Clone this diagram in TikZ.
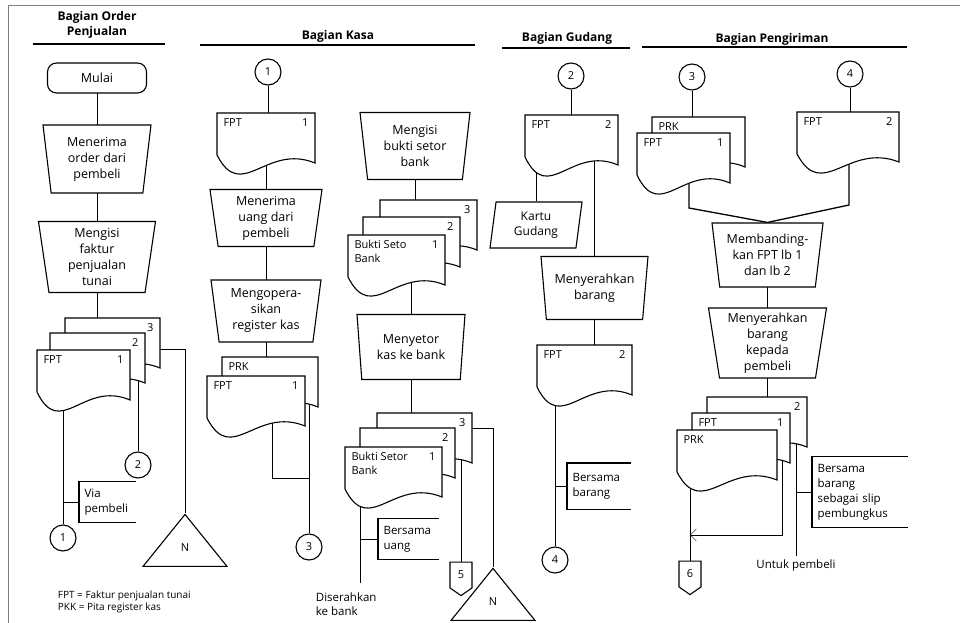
\documentclass[tikz,border=0pt]{standalone}
\usepackage{fontspec}
\setmainfont{Open Sans}
\usetikzlibrary{shapes.geometric,shapes.symbols,arrows.meta,backgrounds}

% document symbol with a wavy bottom edge
\newdimen\docxa \newdimen\docya \newdimen\docw \newdimen\doch
\makeatletter
\pgfdeclareshape{docpage}{
  \inheritsavedanchors[from=rectangle]
  \inheritanchorborder[from=rectangle]
  \inheritanchor[from=rectangle]{center}
  \inheritanchor[from=rectangle]{north}
  \inheritanchor[from=rectangle]{south}
  \inheritanchor[from=rectangle]{east}
  \inheritanchor[from=rectangle]{west}
  \inheritanchor[from=rectangle]{north east}
  \inheritanchor[from=rectangle]{north west}
  \inheritanchor[from=rectangle]{south east}
  \inheritanchor[from=rectangle]{south west}
  \backgroundpath{
    \southwest \docxa=\pgf@x \docya=\pgf@y
    \northeast \docw=\pgf@x \doch=\pgf@y
    \advance\docw by -\docxa
    \advance\doch by -\docya
    \pgfpathmoveto{\pgfpoint{\docxa}{\docya+\doch}}
    \pgfpathlineto{\pgfpoint{\docxa+\docw}{\docya+\doch}}
    \pgfpathlineto{\pgfpoint{\docxa+\docw}{\docya}}
    \pgfpathcurveto{\pgfpoint{\docxa+0.5*\docw}{\docya+0.4*\doch}}
                   {\pgfpoint{\docxa+0.25*\docw}{\docya-0.8*\doch}}
                   {\pgfpoint{\docxa}{\docya+0.16*\doch}}
    \pgfpathclose
  }
}
\makeatother

\tikzset{
  proc/.style={trapezium, trapezium stretches body, shape border rotate=180,
    trapezium left angle=80, trapezium right angle=80, draw, fill=white,
    align=center, inner sep=1pt, font=\fontsize{12.5}{16}\selectfont},
  docbox/.style={docpage, draw, fill=white, minimum width=95, minimum height=50,
    inner sep=0pt, outer sep=0pt},
  doclbl/.style={inner xsep=6pt, inner ysep=5pt, align=left,
    font=\fontsize{11}{14}\selectfont},
  doc/.style 2 args={docbox,
    label={[doclbl, anchor=north west]north west:#1},
    label={[doclbl, anchor=north east]north east:#2}},
  conn/.style={circle, draw, fill=white, minimum size=26, inner sep=0pt,
    font=\fontsize{11}{13}\selectfont},
  offpage/.style={signal, signal to=south, signal pointer angle=110, draw,
    fill=white, minimum width=22, minimum height=28, inner sep=0pt,
    font=\fontsize{11}{13}\selectfont},
  filetri/.style={isosceles triangle, isosceles triangle stretches,
    shape border rotate=90, draw, fill=white, minimum width=84,
    minimum height=52, inner sep=0pt, font=\fontsize{11}{13}\selectfont},
  note/.style={anchor=west, align=left, inner xsep=5pt, inner ysep=0pt,
    font=\fontsize{11.5}{15}\selectfont},
  lanehead/.style={align=center, font=\bfseries\fontsize{12}{15}\selectfont},
}

\begin{document}
\begin{tikzpicture}[x=1pt, y=-1pt, line width=1.1pt]
  \useasboundingbox (0,0) rectangle (960,623);

  % lane headings
  \node[lanehead] (hOrder) at (97,25) {Bagian Order\\Penjualan};
  \node[lanehead] (hKasa) at (338,36) {Bagian Kasa};
  \node[lanehead] (hGudang) at (567,38) {Bagian Gudang};
  \node[lanehead] (hKirim) at (772,39) {Bagian Pengiriman};

  % Bagian Order Penjualan
  \node[draw, fill=white, rounded corners=9pt, minimum width=99, minimum height=30,
    font=\fontsize{12.5}{15}\selectfont] (mulai) at (97,78) {Mulai};
  \node[proc, minimum width=108, minimum height=68] (terima) at (97,159) {Menerima\\order dari\\pembeli};
  \node[proc, minimum width=117, minimum height=71] (isiFpt) at (97,257) {Mengisi\\faktur\\penjualan\\tunai};
  \node[doc={}{3}] (fpt3) at (112.5,343) {};
  \node[doc={}{2}] (fpt2) at (97.5,358) {};
  \node[doc={FPT}{1}, minimum width=93] (fpt1) at (83.5,375) {};
  \node[conn] (cA1) at (63,538) {1};
  \node[conn] (cA2) at (138,465) {2};
  \node[note, text width=46, minimum height=40] (via) at (79,502) {Via\\pembeli};
  \node[filetri, anchor=apex] (fileA) at (185,513) {N};
  \node[anchor=west, align=left, font=\fontsize{10}{12.5}\selectfont] (legend) at (54,602)
    {FPT = Faktur penjualan tunai\\PKK = Pita register kas};

  % Bagian Kasa
  \node[conn] (cB1) at (268,72) {1};
  \node[doc={FPT}{1}, minimum width=98] (kfpt) at (266,138) {};
  \node[proc, minimum width=112, minimum height=57] (terimaUang) at (266,218) {Menerima\\uang dari\\pembeli};
  \node[proc, minimum width=110, minimum height=62] (register) at (266,311) {Mengopera-\\sikan\\register kas};
  \node[doc={PRK}{}, minimum width=96] (kprk) at (270,382) {};
  \node[doc={FPT}{1}, minimum width=98] (kfpt2) at (256,401) {};
  \node[conn] (cB3) at (309,547) {3};
  \coordinate (kjoin) at (309,478);

  \node[proc, minimum width=110, minimum height=67] (isiBukti) at (415,146) {Mengisi\\bukti setor\\bank};
  \node[doc={}{3}, minimum width=97] (bsa3) at (428.5,225) {};
  \node[doc={}{2}, minimum width=97] (bsa2) at (411.5,242) {};
  \node[doc={Bukti Seto\\Bank}{1}, minimum width=97] (bsa1) at (396.5,260) {};
  \node[proc, minimum width=108, minimum height=65] (setor) at (411,347) {Menyetor\\kas ke bank};
  \node[doc={}{3}] (bsb3) at (424.5,438) {};
  \node[doc={}{2}] (bsb2) at (407.5,453) {};
  \node[doc={Bukti Setor\\Bank}{1}, minimum width=97] (bsb1) at (393.5,472) {};
  \node[note, text width=50, minimum height=40] (uang) at (378,539) {Bersama\\uang};
  \coordinate (bankEnd) at (360,583);
  \node[anchor=north west, align=left, font=\fontsize{11.5}{14}\selectfont] (keBank) at (312,589) {Diserahkan\\ke bank};
  \node[offpage] (off5) at (461,575) {5};
  \node[filetri, anchor=apex] (fileB) at (493,567) {N};

  % Bagian Gudang
  \node[conn] (cC2) at (571,76) {2};
  \node[doc={FPT}{2}, minimum width=93] (gfpt) at (571.5,140) {};
  \node[trapezium, trapezium stretches body, trapezium left angle=78, trapezium right angle=102,
    draw, fill=white, minimum width=92, minimum height=46, align=center, inner sep=1pt,
    font=\fontsize{12}{15}\selectfont] (kartu) at (536,225) {Kartu\\Gudang};
  \node[proc, minimum width=107, minimum height=63] (serah) at (594.5,288) {Menyerahkan\\barang};
  \node[doc={FPT}{2}] (gfpt2) at (584.5,370) {};
  \node[conn] (cC4) at (555,560) {4};
  \node[note, text width=53, minimum height=45] (brg) at (567,486) {Bersama\\barang};

  % Bagian Pengiriman
  \node[conn] (cD3) at (692,77) {3};
  \node[conn] (cD4) at (850,74) {4};
  \node[doc={PRK}{}, minimum width=93] (pprk) at (698.5,142) {};
  \node[doc={FPT}{1}, minimum width=93] (pfpt) at (683.5,158) {};
  \node[doc={FPT}{2}, minimum width=102] (pfpt2) at (848,137) {};
  \node[proc, minimum width=111, minimum height=64] (banding) at (767.5,255) {Membanding-\\kan FPT lb 1\\dan lb 2};
  \coordinate (mL) at (689,208);
  \coordinate (mR) at (849,205);
  \node[proc, minimum width=118, minimum height=70] (kirim) at (767.5,343) {Menyerahkan\\barang\\kepada\\pembeli};
  \node[doc={}{2}, minimum width=100] (pd2) at (757,422) {};
  \node[doc={FPT}{1}, minimum width=98] (pd1) at (741,438) {};
  \node[doc={PRK}{}, minimum width=100] (pd0) at (727,455) {};
  \node[offpage] (off6) at (690,574) {6};
  \node[note, text width=85, minimum height=70] (slip) at (812,492) {Bersama\\barang\\sebagai slip\\pembungkus};
  \node[font=\fontsize{11.5}{14}\selectfont] (untuk) at (796,566) {Untuk pembeli};
  \coordinate (arrTurn) at (782,535);

  % brackets of the notes
  \draw (via.north east) -- (via.north west) -- (via.south west) -- (via.south east);
  \draw (uang.north east) -- (uang.north west) -- (uang.south west) -- (uang.south east);
  \draw (brg.north east) -- (brg.north west) -- (brg.south west) -- (brg.south east);
  \draw (slip.north east) -- (slip.north west) -- (slip.south west) -- (slip.south east);

  \begin{scope}[on background layer]
    % frame and lane rules
    \draw[gray, line width=1pt] (8,623) -- (8,6) -- (960,6);
    \draw[line width=1.4pt] (33,44) -- (165,44);
    \draw[line width=1.4pt] (200,45) -- (475,45);
    \draw[line width=1.4pt] (502,48) -- (630,48);
    \draw[line width=1.4pt] (642,47) -- (907,47);

    % order penjualan
    \draw (mulai.center) -- (mulai.center |- terima.center);
    \draw (terima.center) -- (terima.center |- isiFpt.center);
    \draw (isiFpt.center) -- (isiFpt.center |- fpt3.center);
    \draw ([yshift=-6pt]fpt3.center) -| (fileA.apex);
    \draw (fpt2.center -| cA2) -- (cA2);
    \draw (fpt1.center -| cA1) -- (cA1);
    \draw (via.west) -- (via.west -| cA1);

    % kasa
    \draw (cB1) -- (cB1 |- kfpt.center);
    \draw (kfpt.center) -- (kfpt.center |- terimaUang.center);
    \draw (terimaUang.center) -- (terimaUang.center |- register.center);
    \draw (register.center) -- (register.center |- kprk.center);
    \draw (kprk.center -| cB3) -- (cB3);
    \draw ([xshift=16pt]kfpt2.center) |- (kjoin);
    \draw (isiBukti.center) -- (isiBukti.center |- bsa3.center);
    \draw (bsa1.center -| setor) -- (setor);
    \draw (setor.center) -- (setor.center |- bsb3.center);
    \draw (bsb1.center -| bankEnd) -- (bankEnd);
    \draw (uang.west) -- (uang.west -| bankEnd);
    \draw (bsb2.center -| off5) -- (off5);
    \draw ([yshift=10pt]bsb3.center) -| (fileB.apex);

    % gudang
    \draw (cC2) -- (cC2 |- gfpt.center);
    \draw (gfpt.center -| kartu) -- (kartu);
    \draw (gfpt.center -| serah) -- (serah);
    \draw (serah.center) -- (serah.center |- gfpt2.center);
    \draw (gfpt2.center -| cC4) -- (cC4);
    \draw (brg.west) -- (brg.west -| cC4);

    % pengiriman
    \draw (cD3) -- (cD3 |- pprk.center);
    \draw (cD4) -- (cD4 |- pfpt2.center);
    \draw[line width=1.3pt] (pfpt.center -| mL) -- (mL) -- (banding.north);
    \draw[line width=1.3pt] (pfpt2.center -| mR) -- (mR) -- (banding.north);
    \draw (banding.center) -- (banding.center |- kirim.center);
    \draw (kirim.center) -- (kirim.center |- pd2.center);
    \draw (pd0.center -| off6) -- (off6);
    \draw[-{Straight Barb[length=6pt]}] (pd1.center -| arrTurn) -- (arrTurn) -- (arrTurn -| off6);
    \draw (pd2.center -| untuk) -- (untuk.north);
    \draw (slip.west) -- (slip.west -| untuk);
  \end{scope}
\end{tikzpicture}
\end{document}
